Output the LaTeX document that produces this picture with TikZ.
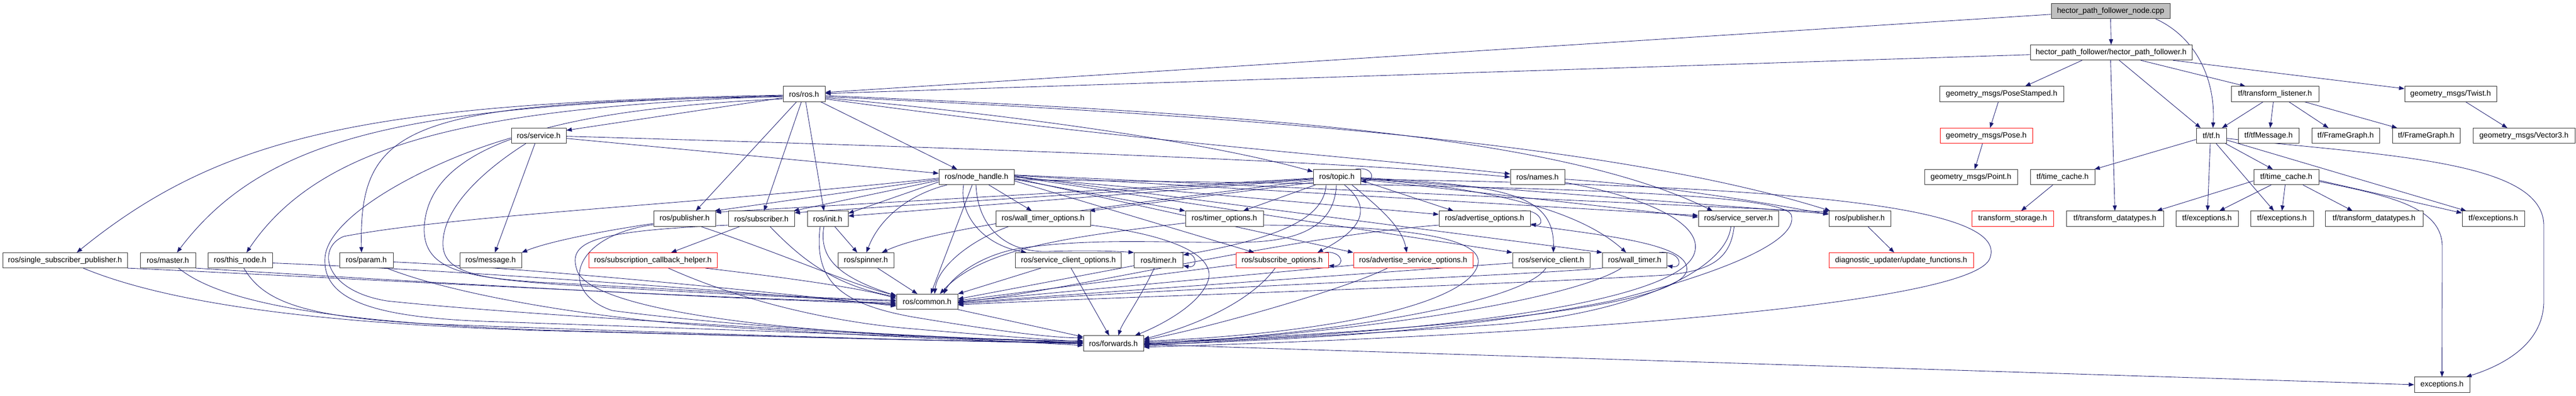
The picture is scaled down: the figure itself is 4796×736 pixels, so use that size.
\documentclass[tikz,border=0pt]{standalone}
\usepackage{fontspec}
\setmainfont{Liberation Sans}
\usetikzlibrary{arrows.meta,calc}
\pgfdeclarelayer{bg}
\pgfdeclarelayer{edges}
\pgfsetlayers{bg,edges,main}
\definecolor{edgec}{RGB}{25,25,112}
\definecolor{nodeb}{RGB}{50,50,50}
\begin{document}
\begin{tikzpicture}[x=1pt,y=-1pt,
  box/.style={draw=nodeb,fill=white,line width=0.9pt,minimum height=28.2pt,inner sep=0pt,font=\fontsize{14.3pt}{16pt}\selectfont},
  rbox/.style={box,draw=red},
  e/.style={draw=edgec,line width=0.85pt,-{Triangle[length=10pt,width=7.5pt]}}]
\begin{pgfonlayer}{bg}
\fill[white] (0,0) rectangle (4796,736);
\end{pgfonlayer}
\useasboundingbox (0,0) rectangle (4796,736);
% ---------- nodes ----------
\node[box,fill=gray!50,minimum width=221pt] (cpp) at (3929.5,20.7) {hector\_path\_follower\_node.cpp};
\node[box,minimum width=301pt] (hpf) at (3930.5,97.7) {hector\_path\_follower/hector\_path\_follower.h};
\node[box,minimum width=78pt] (ros) at (1497,175) {ros/ros.h};
\node[box,minimum width=231pt] (pstamp) at (3726.5,175) {geometry\_msgs/PoseStamped.h};
\node[box,minimum width=163pt] (tflist) at (4235.5,175) {tf/transform\_listener.h};
\node[box,minimum width=171pt] (twist) at (4562.5,175) {geometry\_msgs/Twist.h};
\node[box,minimum width=102pt] (service) at (1003,252.6) {ros/service.h};
\node[rbox,minimum width=172pt] (pose) at (3698,252.6) {geometry\_msgs/Pose.h};
\node[box,minimum width=56pt] (tf) at (4117,252.6) {tf/tf.h};
\node[box,minimum width=113pt] (tfmsg) at (4223.5,252.6) {tf/tfMessage.h};
\node[box,minimum width=126pt] (fg1) at (4367,252.6) {tf/FrameGraph.h};
\node[box,minimum width=126pt] (fg2) at (4517,252.6) {tf/FrameGraph.h};
\node[box,minimum width=190pt] (vec3) at (4699,252.6) {geometry\_msgs/Vector3.h};
\node[box,minimum width=140pt] (nh) at (1818,329.6) {ros/node\_handle.h};
\node[box,minimum width=88pt] (topic) at (2489,329.6) {ros/topic.h};
\node[box,minimum width=101pt] (names) at (2862.5,329.6) {ros/names.h};
\node[box,minimum width=173pt] (point) at (3669.5,329.6) {geometry\_msgs/Point.h};
\node[box,minimum width=120pt] (tc1) at (3840,329.6) {tf/time\_cache.h};
\node[box,minimum width=121pt] (tc2) at (4256.5,329.6) {tf/time\_cache.h};
\node[box,minimum width=115pt] (pub) at (1274.5,407) {ros/publisher.h};
\node[box,minimum width=123pt] (sub) at (1417.5,407) {ros/subscriber.h};
\node[box,minimum width=76pt] (init) at (1541,407) {ros/init.h};
\node[box,minimum width=176pt] (wto) at (1942,407) {ros/wall\_timer\_options.h};
\node[box,minimum width=145pt] (tmo) at (2279.5,407) {ros/timer\_options.h};
\node[box,minimum width=170pt] (ao) at (2764,407) {ros/advertise\_options.h};
\node[box,minimum width=149pt] (ss) at (3236.5,407) {ros/service\_server.h};
\node[box,minimum width=115pt] (pub2) at (3462.5,407) {ros/publisher.h};
\node[rbox,minimum width=152pt] (tstore) at (3747,407) {transform\_storage.h};
\node[box,minimum width=181pt] (td1) at (3937.5,407) {tf/transform\_datatypes.h};
\node[box,minimum width=116pt] (ex1) at (4109,407) {tf/exceptions.h};
\node[box,minimum width=117pt] (ex2) at (4248.5,407) {tf/exceptions.h};
\node[box,minimum width=182pt] (td2) at (4420,407) {tf/transform\_datatypes.h};
\node[box,minimum width=116pt] (ex3) at (4642,407) {tf/exceptions.h};
\node[box,minimum width=232pt] (ssp) at (121,484.5) {ros/single\_subscriber\_publisher.h};
\node[box,minimum width=103pt] (master) at (312.5,484.5) {ros/master.h};
\node[box,minimum width=120pt] (thisn) at (447,484.5) {ros/this\_node.h};
\node[box,minimum width=100pt] (param) at (682,484.5) {ros/param.h};
\node[box,minimum width=115pt] (msg) at (913.5,484.5) {ros/message.h};
\node[rbox,minimum width=239pt] (sch) at (1215.5,484.5) {ros/subscription\_callback\_helper.h};
\node[box,minimum width=104pt] (spin) at (1612,484.5) {ros/spinner.h};
\node[box,minimum width=197pt] (sco) at (1989,484.5) {ros/service\_client\_options.h};
\node[box,minimum width=91pt] (timer) at (2157,484.5) {ros/timer.h};
\node[rbox,minimum width=172pt] (so) at (2387,484.5) {ros/subscribe\_options.h};
\node[rbox,minimum width=222pt] (aso) at (2631,484.5) {ros/advertise\_service\_options.h};
\node[box,minimum width=144pt] (sc) at (2888,484.5) {ros/service\_client.h};
\node[box,minimum width=120pt] (wt) at (3043.5,484.5) {ros/wall\_timer.h};
\node[rbox,minimum width=269pt] (diag) at (3539.5,484.5) {diagnostic\_updater/update\_functions.h};
\node[box,minimum width=114pt] (common) at (1726,561.5) {ros/common.h};
\node[box,minimum width=112pt] (fwd) at (2073,639) {ros/forwards.h};
\node[box,minimum width=103pt] (exc) at (4546.5,716) {exceptions.h};
% ---------- edges ----------
\begin{pgfonlayer}{edges}
% top part
\draw[e] ([yshift=-6pt]cpp.west) -- ([yshift=3pt]ros.east);
\draw[e] ([yshift=-4pt]hpf.west) -- ([yshift=1pt]ros.east);
\draw[e] (cpp.south) -- (hpf.north);
\draw[e] ([xshift=84pt]cpp.south) .. controls (4090,70) and (4125,150) .. ([xshift=3pt]tf.north);
\draw[e] ([xshift=-54pt]hpf.south) -- ([xshift=44pt]pstamp.north);
\draw[e] ([xshift=-1pt]hpf.south) -- (td1.north);
\draw[e] ([xshift=15pt]hpf.south) -- ([xshift=-20pt]tf.north);
\draw[e] ([xshift=55pt]hpf.south) -- ([xshift=-55pt]tflist.north);
\draw[e] ([xshift=115pt]hpf.south) -- ([yshift=10pt]twist.west);
\draw[e] ([xshift=-22pt]tflist.south) -- ([xshift=20pt]tf.north);
\draw[e] ([xshift=-3pt]tflist.south) -- ([xshift=3pt]tfmsg.north);
\draw[e] ([xshift=26pt]tflist.south) -- ([xshift=-32pt]fg1.north);
\draw[e] ([xshift=55pt]tflist.south) -- ([xshift=-54pt]fg2.north);
\draw[e] ([xshift=28pt]twist.south) -- ([xshift=-31pt]vec3.north);
\draw[e] ([xshift=-6pt]pstamp.south) -- ([xshift=7pt]pose.north);
\draw[e] ([xshift=-7pt]pose.south) -- ([xshift=7pt]point.north);
% tf
\draw[e] ([yshift=-7pt]tf.west) -- ([xshift=-1pt]tc1.north east);
\draw[e] ([xshift=-2pt]tf.south) -- ([xshift=1pt]ex1.north);
\draw[e] ([xshift=9pt]tf.south) -- ([xshift=-15pt]ex2.north);
\draw[e] ([xshift=-2pt]tf.south east) -- ([xshift=-25pt]tc2.north);
\draw[e] ([yshift=-8pt]tf.east) -- ([xshift=8pt]ex3.north west);
\draw[e] ([yshift=-5pt]tf.east) .. controls (4450,290) and (4736,300) .. (4736,420) -- (4736,560) .. controls (4736,640) and (4660,680) .. ([xshift=45pt]exc.north);
% time cache 2
\draw[e] ([yshift=-7pt]tc2.west) -- ([xshift=78pt]td1.north);
\draw[e] ([xshift=-28pt]tc2.south) -- ([xshift=23pt]ex1.north);
\draw[e] ([xshift=-2pt]tc2.south) -- (ex2.north);
\draw[e] ([xshift=31pt]tc2.south) -- ([xshift=-40pt]td2.north);
\draw[e] ([yshift=-6pt]tc2.east) -- ([yshift=-4pt]ex3.north west);
\draw[e] ([yshift=-8pt]tc2.east) .. controls (4450,365) and (4547,385) .. (4547,460) -- (exc.north);
\draw[e] ([xshift=-18pt]tc1.south) -- ([xshift=16pt]tstore.north);
\draw[e] ([xshift=15pt]pub2.south) -- ([xshift=-13pt]diag.north);
% ros.h
\draw[e] ([yshift=-2pt]ros.west) .. controls (700,192) and (420,245) .. ([xshift=22pt]ssp.north);
\draw[e] ([yshift=-3pt]ros.west) .. controls (780,195) and (500,245) .. ([xshift=17pt]master.north);
\draw[e] ([yshift=-4pt]ros.west) .. controls (900,200) and (600,260) .. ([xshift=12pt]thisn.north);
\draw[e] ([yshift=-5pt]ros.west) .. controls (760,190) and (668,230) .. ([xshift=-9pt]param.north);
\draw[e] ([yshift=-7pt]ros.west) -- ([yshift=10pt]service.east);
\draw[e] ([xshift=-14pt]ros.south) -- ([xshift=21pt]pub.north);
\draw[e] ([xshift=-5pt]ros.south) -- ([xshift=5pt]sub.north);
\draw[e] ([xshift=3pt]ros.south) -- ([xshift=-7pt]init.north);
\draw[e] ([xshift=31pt]ros.south) -- ([xshift=-36pt]nh.north);
\draw[e] ([yshift=-7pt]ros.east) .. controls (1900,215) and (2250,265) .. ([yshift=10pt]topic.west);
\draw[e] ([yshift=-9pt]ros.east) .. controls (2100,262) and (2500,290) .. ([yshift=6pt]names.west);
\draw[e] ([yshift=-3pt]ros.east) .. controls (2300,210) and (2900,250) .. ([xshift=-48pt]ss.north);
\draw[e] ([yshift=-5pt]ros.east) .. controls (2300,215) and (3000,265) .. ([xshift=3pt]pub2.north west);
\draw[e] ([yshift=-9pt]ros.west) .. controls (1000,205) and (800,280) .. (790,420) .. controls (785,500) and (860,515) .. (1000,525) .. controls (1300,540) and (1500,555) .. ([yshift=3pt]common.west);
% service.h
\draw[e] ([yshift=-4pt]service.west) .. controls (800,300) and (610,400) .. (605,480) .. controls (600,560) and (700,590) .. (900,598) .. controls (1400,615) and (1800,630) .. ([yshift=1pt]fwd.west);
\draw[e] ([xshift=-24pt]service.south) .. controls (880,330) and (820,400) .. (825,460) .. controls (830,510) and (900,520) .. (1050,530) .. controls (1300,545) and (1500,555) .. ([yshift=1pt]common.west);
\draw[e] ([xshift=-7pt]service.south) -- ([xshift=8pt]msg.north);
\draw[e] ([yshift=-5pt]service.east) -- ([yshift=7pt]nh.west);
\draw[e] ([yshift=-1pt]service.east) .. controls (1800,275) and (2500,300) .. (names.west);
% left row
\draw[e] (ssp.south east) .. controls (600,515) and (1300,555) .. ([yshift=-2pt]common.west);
\draw[e] ([xshift=34pt]ssp.south) .. controls (350,580) and (700,605) .. (1000,615) .. controls (1500,628) and (1800,636) .. ([yshift=2pt]fwd.west);
\draw[e] (master.south east) .. controls (700,520) and (1300,555) .. ([yshift=-4pt]common.west);
\draw[e] ([xshift=20pt]master.south) .. controls (420,570) and (650,600) .. (1000,614) .. controls (1500,628) and (1800,636) .. ([yshift=1pt]fwd.west);
\draw[e] ([yshift=-5pt]thisn.east) .. controls (900,505) and (1400,545) .. ([yshift=-6pt]common.west);
\draw[e] ([xshift=7pt]thisn.south) .. controls (490,560) and (560,590) .. (800,603) .. controls (1400,625) and (1800,636) .. (fwd.west);
\draw[e] ([yshift=-3pt]param.east) .. controls (1000,500) and (1400,540) .. ([yshift=-8pt]common.west);
\draw[e] ([xshift=38pt]param.south) .. controls (850,550) and (1100,590) .. (1300,605) .. controls (1600,625) and (1850,636) .. ([yshift=-1pt]fwd.west);
\draw[e] ([xshift=98pt]sch.south) .. controls (1450,515) and (1600,535) .. ([yshift=6pt]common.west);
\draw[e] ([xshift=29pt]sch.south) .. controls (1380,560) and (1550,600) .. (1700,612) .. controls (1850,625) and (1950,632) .. ([yshift=3pt]fwd.west);
% publisher / subscriber / init / spinner
\draw[e] ([yshift=-9pt]pub.west) .. controls (1120,430) and (1020,450) .. (msg.north east);
\draw[e] ([xshift=30pt]pub.south) .. controls (1450,470) and (1600,535) .. ([yshift=12pt]common.west);
\draw[e] ([yshift=-11pt]pub.west) .. controls (1060,440) and (1040,545) .. (1140,578) .. controls (1400,612) and (1800,632) .. ([yshift=4pt]fwd.west);
\draw[e] ([xshift=-40pt]sub.south) -- ([xshift=34pt]sch.north);
\draw[e] ([xshift=16pt]sub.south) .. controls (1490,480) and (1550,530) .. ([yshift=9pt]common.west);
\draw[e] ([yshift=-12pt]sub.west) .. controls (1100,430) and (1055,450) .. (1075,505) .. controls (1100,565) and (1350,605) .. (1650,622) .. controls (1850,632) and (1950,636) .. ([yshift=5pt]fwd.west);
\draw[e] ([xshift=13pt]init.south) -- ([xshift=-16pt]spin.north);
\draw[e] ([xshift=-7pt]init.south) .. controls (1524,480) and (1560,515) .. ([yshift=11pt]common.west);
\draw[e] ([xshift=-14pt]init.south) .. controls (1515,520) and (1560,565) .. (1700,590) .. controls (1850,615) and (1950,628) .. ([yshift=10pt]fwd.west);
\draw[e] ([xshift=22pt]spin.south) -- ([xshift=-18pt]common.north);
% node_handle.h
\draw[e] ([yshift=-4pt]nh.west) -- ([xshift=-2pt]pub.north east);
\draw[e] ([yshift=-6pt]nh.west) -- ([xshift=-2pt]sub.north east);
\draw[e] ([yshift=-9pt]nh.west) -- ([yshift=10pt]init.east);
\draw[e] ([xshift=-55pt]nh.south) .. controls (1700,360) and (1640,400) .. ([xshift=1pt]spin.north);
\draw[e] ([xshift=-8pt]nh.south) -- ([xshift=7pt]common.north);
\draw[e] ([xshift=-24pt]nh.south) .. controls (1785,400) and (1830,455) .. ([xshift=-78pt]sco.north);
\draw[e] ([xshift=-1pt]nh.south) .. controls (1820,420) and (1870,470) .. (1950,468) .. controls (2020,466) and (2070,467) .. (timer.north west);
\draw[e] ([xshift=23pt]nh.south) -- ([xshift=-21pt]wto.north);
\draw[e] ([yshift=-7pt]nh.east) -- ([xshift=-52pt]so.north);
\draw[e] ([yshift=-4pt]nh.east) -- (tmo.north west);
\draw[e] (nh.east) -- ([yshift=8pt]ao.west);
\draw[e] ([yshift=-2pt]nh.east) -- (aso.north west);
\draw[e] ([yshift=1pt]nh.east) -- (sc.north west);
\draw[e] ([yshift=2pt]nh.east) -- (wt.north west);
\draw[e] ([yshift=3pt]nh.east) -- ([yshift=6pt]ss.west);
\draw[e] ([yshift=4pt]nh.east) -- ([yshift=-2pt]pub2.north west);
\draw[e] ([yshift=-2pt]nh.west) .. controls (1300,380) and (850,400) .. (640,440) .. controls (590,460) and (600,540) .. (720,560) .. controls (1000,590) and (1700,625) .. ([yshift=-4pt]fwd.west);
\draw[e] ([yshift=-5pt]nh.east) .. controls (2900,345) and (3320,360) .. (3335,400) .. controls (3350,450) and (3200,510) .. (3000,560) .. controls (2700,620) and (2400,632) .. ([yshift=-3pt]fwd.east);
% options / timers
\draw[e] ([xshift=-64pt]wto.south) .. controls (1800,450) and (1745,500) .. ([xshift=14pt]common.north);
\draw[e] ([yshift=-12pt]wto.east) .. controls (2200,440) and (2260,480) .. (2250,520) .. controls (2235,570) and (2150,610) .. ([xshift=40pt]fwd.north);
\draw[e] ([yshift=-8pt]tmo.west) .. controls (2000,440) and (1830,460) .. ([xshift=24pt]common.north);
\draw[e] ([yshift=-12pt]tmo.east) .. controls (2600,420) and (2760,440) .. (2752,490) .. controls (2740,560) and (2500,620) .. ([yshift=4pt]fwd.east);
\draw[e] ([xshift=-51pt]sco.south) -- (common.north east);
\draw[e] ([xshift=5pt]sco.south) -- ([xshift=-8pt]fwd.north);
\draw[e] ([xshift=-5pt]timer.north east) .. controls (2230,466) and (2232,500) .. ([yshift=-10pt]timer.east);
\draw[e] ([yshift=-10pt]timer.west) -- ([yshift=5pt]common.east);
\draw[e] ([xshift=-8pt]timer.south) .. controls (2120,560) and (2090,600) .. ([xshift=9pt]fwd.north);
\draw[e] ([xshift=-7pt]so.north east) .. controls (2500,466) and (2505,496) .. ([yshift=-10pt]so.east);
\draw[e] ([yshift=-8pt]so.west) -- ([yshift=2pt]common.east);
\draw[e] ([xshift=-13pt]so.south) .. controls (2330,560) and (2230,605) .. ([yshift=8pt]fwd.east);
\draw[e] ([yshift=-9pt]aso.west) -- (common.east);
\draw[e] ([xshift=-48pt]aso.south) .. controls (2500,540) and (2250,610) .. ([yshift=6pt]fwd.east);
\draw[e] ([yshift=-5pt]sc.west) -- ([yshift=-2pt]common.east);
\draw[e] ([xshift=-10pt]sc.south) .. controls (2840,560) and (2500,622) .. ([yshift=-1pt]fwd.east);
\draw[e] ([xshift=-15pt]wt.north east) .. controls (3130,466) and (3135,500) .. ([yshift=-10pt]wt.east);
\draw[e] (wt.south west) .. controls (2800,515) and (2200,535) .. ([yshift=-4pt]common.east);
\draw[e] ([xshift=-25pt]wt.south) .. controls (2940,550) and (2600,615) .. ([yshift=-2pt]fwd.east);
\draw[e] ([xshift=-8pt]ss.south) .. controls (3222,485) and (3180,505) .. (3100,512) .. controls (2700,535) and (2000,555) .. ([yshift=-6pt]common.east);
\draw[e] ([xshift=-14pt]ss.south) .. controls (3215,500) and (3050,580) .. (2800,603) .. controls (2500,625) and (2300,632) .. ([yshift=-5pt]fwd.east);
\draw[e] ([xshift=-19pt]ao.north east) .. controls (2870,388) and (2878,422) .. ([yshift=-10pt]ao.east);
\draw[e] ([yshift=-12pt]ao.east) .. controls (3000,440) and (3150,455) .. (3140,505) .. controls (3120,570) and (2700,615) .. ([yshift=2pt]fwd.east);
\draw[e] ([yshift=-12pt]ao.west) .. controls (2400,440) and (2000,540) .. ([yshift=-1pt]common.east);
% names.h
\draw[e] ([yshift=-4pt]names.east) .. controls (3100,345) and (3300,380) .. ([yshift=8pt]pub2.west);
\draw[e] ([yshift=-10pt]names.east) .. controls (3080,370) and (3170,420) .. (3155,470) .. controls (3130,560) and (2700,620) .. (fwd.east);
% topic.h
\draw[e] ([xshift=-10pt]topic.north east) .. controls (2556,308) and (2562,336) .. ([yshift=-8pt]topic.east);
\draw[e] ([yshift=-6pt]topic.east) -- ([xshift=-58pt]ao.north);
\draw[e] ([xshift=-40pt]topic.south) -- ([xshift=35pt]tmo.north);
\draw[e] ([xshift=14pt]topic.south) .. controls (2560,390) and (2530,430) .. ([xshift=66pt]so.north);
\draw[e] ([xshift=28pt]topic.south) .. controls (2560,380) and (2610,420) .. ([xshift=-12pt]aso.north);
\draw[e] ([yshift=-3pt]topic.east) .. controls (2800,350) and (2950,400) .. ([xshift=-16pt]wt.north);
\draw[e] ([yshift=-1pt]topic.east) .. controls (2800,345) and (2895,360) .. ([xshift=4pt]sc.north);
\draw[e] ([yshift=-4pt]topic.east) -- ([yshift=3pt]ss.west);
\draw[e] ([yshift=-2pt]topic.east) -- ([yshift=9pt]pub2.west);
\draw[e] ([yshift=-10pt]topic.west) -- ([xshift=-2pt]wto.north east);
\draw[e] ([yshift=-6pt]topic.west) .. controls (2100,380) and (1750,420) .. ([xshift=30pt]spin.north);
\draw[e] ([yshift=-2pt]topic.west) -- ([yshift=12pt]pub.east);
\draw[e] ([yshift=-3pt]topic.west) -- ([yshift=11pt]sub.east);
\draw[e] ([yshift=-4pt]topic.west) -- ([yshift=5pt]init.east);
\draw[e] ([xshift=-20pt]topic.south) .. controls (2465,400) and (2400,440) .. ([yshift=10pt]timer.east);
\draw[e] ([xshift=-1pt]topic.south) .. controls (2485,420) and (2420,445) .. (2340,450) .. controls (2200,455) and (2050,440) .. (1900,462) .. controls (1820,475) and (1770,520) .. ([xshift=31pt]common.north);
\draw[e] ([yshift=-4pt]topic.east) .. controls (3350,345) and (3740,385) .. (3705,480) .. controls (3680,560) and (3000,620) .. ([yshift=-7pt]fwd.east);
% common / forwards
\draw[e] (common.south east) -- ([yshift=12pt]fwd.west);
\draw[e] ([yshift=-2pt]fwd.east) -- (exc.west);
\end{pgfonlayer}
\end{tikzpicture}
\end{document}
